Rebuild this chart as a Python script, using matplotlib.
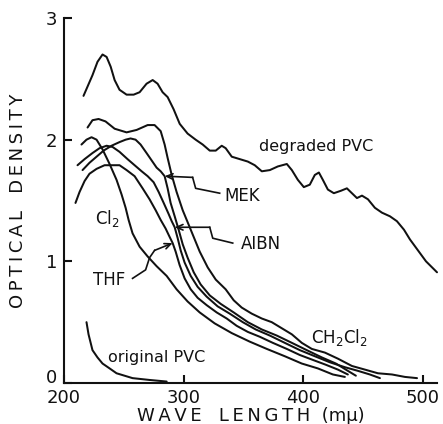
import matplotlib
matplotlib.use("Agg")
import matplotlib.pyplot as plt
from matplotlib.transforms import ScaledTranslation

# ---------------- data ----------------
degraded_wl = [216.3, 223.8, 228.0, 232.2, 235.6, 239.0, 242.3, 246.4, 252.3, 258.2,
               263.2, 269.0, 274.1, 278.2, 282.4, 286.6, 291.6, 296.7, 303.3, 310.0,
               315.9, 321.8, 326.8, 331.8, 335.1, 340.2, 346.9, 353.6, 359.4, 365.3,
               372.0, 378.7, 386.2, 390.4, 395.4, 400.4, 405.4, 409.6, 413.0, 416.3,
               420.5, 425.5, 431.4, 436.4, 440.6, 444.8, 449.0, 454.0, 459.8, 465.7,
               472.4, 478.2, 484.1, 489.1, 495.8, 502.5, 511.7]
degraded_od = [2.36, 2.53, 2.64, 2.70, 2.68, 2.60, 2.49, 2.41, 2.37, 2.37,
               2.39, 2.46, 2.49, 2.46, 2.39, 2.35, 2.25, 2.13, 2.05, 2.00,
               1.96, 1.91, 1.91, 1.95, 1.93, 1.86, 1.84, 1.82, 1.79, 1.74,
               1.75, 1.78, 1.80, 1.75, 1.67, 1.61, 1.63, 1.71, 1.73, 1.67,
               1.59, 1.56, 1.58, 1.60, 1.56, 1.52, 1.54, 1.51, 1.44, 1.40,
               1.37, 1.33, 1.26, 1.18, 1.09, 1.00, 0.91]

ch2cl2_wl = [219.7, 223.8, 228.9, 234.7, 242.3, 252.3, 260.7, 269.9, 275.7, 280.8,
             284.1, 286.6, 290.0, 294.1, 299.2, 305.9, 313.4, 320.1, 326.8, 335.1,
             341.8, 348.5, 356.9, 365.3, 373.6, 382.0, 390.4, 398.7, 407.1, 418.0,
             428.9, 440.6, 451.5, 462.3, 474.1, 484.9, 495.0]
ch2cl2_od = [2.10, 2.16, 2.17, 2.15, 2.09, 2.06, 2.08, 2.12, 2.12, 2.07,
             1.96, 1.85, 1.71, 1.57, 1.42, 1.26, 1.08, 0.95, 0.85, 0.77,
             0.68, 0.62, 0.57, 0.53, 0.50, 0.45, 0.40, 0.33, 0.28, 0.25,
             0.20, 0.14, 0.11, 0.08, 0.07, 0.05, 0.04]

cl2_wl = [214.6, 218.8, 223.0, 227.2, 232.2, 238.1, 243.9, 248.1, 251.5, 254.0,
          257.3, 263.2, 269.9, 277.4, 285.8, 294.1, 303.3, 313.4, 325.9, 340.2,
          355.2, 369.5, 384.5, 398.7, 412.1, 424.7, 434.7]
cl2_od = [1.96, 2.00, 2.02, 2.00, 1.92, 1.80, 1.67, 1.55, 1.44, 1.34,
          1.23, 1.12, 1.04, 0.96, 0.88, 0.77, 0.67, 0.58, 0.49, 0.41,
          0.34, 0.28, 0.22, 0.16, 0.12, 0.07, 0.05]

thf_wl = [209.6, 213.0, 217.2, 221.3, 227.2, 233.9, 240.6, 246.4, 252.3, 259.0,
          265.7, 271.5, 276.6, 280.8, 284.9, 288.3, 290.8, 293.3, 296.6, 300.8,
          305.9, 311.7, 319.2, 327.6, 336.0, 344.3, 353.6, 363.6, 374.5, 386.2,
          397.1, 407.9, 418.8, 428.9, 437.2]
thf_od = [1.48, 1.57, 1.66, 1.72, 1.76, 1.79, 1.79, 1.79, 1.75, 1.70,
          1.60, 1.51, 1.42, 1.34, 1.27, 1.20, 1.15, 1.08, 0.97, 0.86,
          0.77, 0.70, 0.64, 0.58, 0.53, 0.47, 0.42, 0.38, 0.33, 0.28,
          0.23, 0.19, 0.15, 0.11, 0.07]

aibn_wl = [211.3, 217.2, 223.8, 229.7, 235.6, 240.6, 246.4, 253.1, 259.0, 264.9,
           269.9, 274.9, 279.1, 283.3, 287.4, 290.0, 292.5, 295.0, 297.5, 300.8,
           305.9, 311.7, 319.2, 328.4, 338.5, 349.4, 360.2, 372.0, 384.5, 397.1,
           409.6, 422.2, 434.7, 445.6, 455.6, 464.0]
aibn_od = [1.79, 1.84, 1.89, 1.93, 1.95, 1.94, 1.90, 1.84, 1.79, 1.74,
           1.70, 1.65, 1.57, 1.48, 1.39, 1.33, 1.28, 1.19, 1.09, 0.99,
           0.88, 0.79, 0.71, 0.63, 0.57, 0.50, 0.44, 0.39, 0.33, 0.27,
           0.22, 0.17, 0.13, 0.10, 0.07, 0.04]

mek_wl = [215.5, 221.3, 227.2, 233.1, 239.7, 246.4, 251.5, 255.6, 259.8, 264.0,
          269.0, 273.2, 277.4, 280.8, 284.1, 286.6, 289.1, 292.5, 295.8, 299.2,
          303.3, 308.4, 314.2, 321.8, 331.0, 341.8, 353.6, 365.3, 377.8, 390.4,
          402.9, 415.5, 427.2, 437.2, 443.9]
mek_od = [1.75, 1.81, 1.86, 1.91, 1.95, 1.98, 2.00, 2.01, 2.00, 1.96,
          1.89, 1.83, 1.77, 1.74, 1.70, 1.60, 1.48, 1.37, 1.26, 1.14,
          1.03, 0.91, 0.81, 0.72, 0.65, 0.58, 0.50, 0.44, 0.39, 0.33,
          0.27, 0.21, 0.16, 0.10, 0.06]

original_wl = [218.8, 220.5, 223.8, 228.0, 232.2, 238.1, 243.9, 250.6, 257.3, 271.5, 285.8]
original_od = [0.50, 0.40, 0.27, 0.21, 0.16, 0.12, 0.08, 0.06, 0.04, 0.025, 0.012]

x_ticks = [200, 300, 400, 500]
y_ticks = [0, 1, 2, 3]

# ---------------- figure ----------------
fig = plt.figure(figsize=(4.43, 4.24), dpi=100, facecolor="white")
ax = fig.add_axes([64 / 443, 1 - 383 / 424, (437 - 64) / 443, (383 - 18) / 424])
ax.set_facecolor("white")

lw = 1.45
col = "#111111"
for wl, od in [(degraded_wl, degraded_od), (ch2cl2_wl, ch2cl2_od), (cl2_wl, cl2_od),
               (thf_wl, thf_od), (aibn_wl, aibn_od), (mek_wl, mek_od),
               (original_wl, original_od)]:
    ax.plot(wl, od, color=col, lw=lw, solid_capstyle="round", solid_joinstyle="round",
            clip_on=False)

ax.set_xlim(200, 511.7)
ax.set_ylim(0, 3)
ax.set_xticks(x_ticks)
ax.set_yticks(y_ticks)
ax.set_xticklabels([str(v) for v in x_ticks])
ax.set_yticklabels([str(v) for v in y_ticks])
for s in ("top", "right"):
    ax.spines[s].set_visible(False)
for s in ("left", "bottom"):
    ax.spines[s].set_linewidth(1.5)
    ax.spines[s].set_color(col)
ax.tick_params(direction="in", length=6, width=1.5, labelsize=13, colors=col)
ax.tick_params(axis="x", pad=4)
ax.tick_params(axis="y", pad=5)

# the "0" of the y axis sits a little above the x axis in the reference
fig.canvas.draw()
ylab0 = ax.get_yticklabels()[0]
ylab0.set_transform(ylab0.get_transform() + ScaledTranslation(0, 5 / 72, fig.dpi_scale_trans))

TS = "\u2009"
ax.set_xlabel(TS.join("WAVE") + "   " + TS.join("LENGTH") + "  (mμ)",
              fontsize=13, labelpad=0, color=col)
ax.set_ylabel(TS.join("OPTICAL") + "   " + TS.join("DENSITY"),
              fontsize=13, labelpad=13, color=col)

# ---------------- labels ----------------
tk = dict(color=col, ha="center", va="center")
ax.text(410.3, 1.94, "degraded PVC", fontsize=11.5, **tk)
ax.text(349.2, 1.54, "MEK", fontsize=12, **tk)
ax.text(364.4, 1.14, "AIBN", fontsize=12, **tk)
ax.text(238.1, 0.85, "THF", fontsize=12, **tk)
ax.text(236.3, 1.35, "Cl$_2$", fontsize=12, **tk)
ax.text(430.5, 0.37, "CH$_2$Cl$_2$", fontsize=12, **tk)
ax.text(277.4, 0.21, "original PVC", fontsize=11.5, **tk)

# pointer lines with arrow heads
pointers = [
    ([330.1, 310.0, 307.5], [1.56, 1.60, 1.69], (284.1, 1.70)),   # MEK
    ([341.0, 324.3, 321.8], [1.15, 1.19, 1.28], (292.5, 1.28)),   # AIBN
    ([257.3, 268.2, 271.5, 275.7], [0.86, 0.93, 1.03, 1.09], (290.8, 1.15)),  # THF
]
for px, py, head in pointers:
    ax.plot(px, py, color=col, lw=1.2)
    ax.annotate("", xy=head, xytext=(px[-1], py[-1]),
                arrowprops=dict(arrowstyle="->,head_length=0.45,head_width=0.2",
                                color=col, lw=1.2, shrinkA=0, shrinkB=0))

fig.savefig("out.png", dpi=100, facecolor="white")
